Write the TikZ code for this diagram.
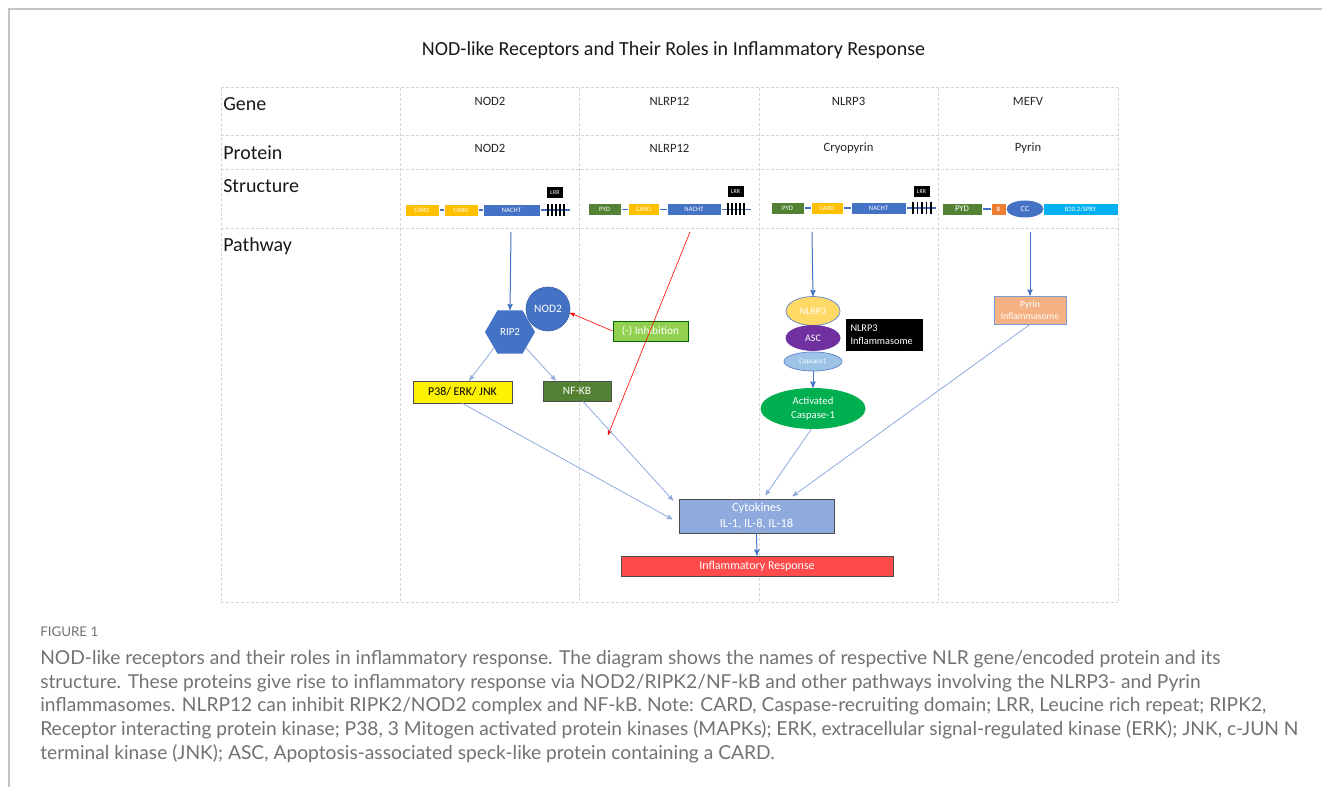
\documentclass[tikz,border=0pt]{standalone}
\usepackage{fontspec}
\setmainfont{Carlito}
\newfontfamily\capfont{Lato}
\usetikzlibrary{arrows,shapes.geometric}

\newdimen\px
\px=0.75pt

\definecolor{gridgray}{HTML}{D6D6D6}
\definecolor{framegray}{HTML}{C4C4C4}
\definecolor{cardyel}{HTML}{FFC000}
\definecolor{nachtblue}{HTML}{4472C4}
\definecolor{pydgreen}{HTML}{548235}
\definecolor{borange}{HTML}{ED7D31}
\definecolor{sprycyan}{HTML}{00B0F0}
\definecolor{lightblue}{HTML}{8FAADC}
\definecolor{inhibgreen}{HTML}{92D050}
\definecolor{nlrpyel}{HTML}{FFD966}
\definecolor{ascpurple}{HTML}{7030A0}
\definecolor{caspblue}{HTML}{9DC3E6}
\definecolor{actgreen}{HTML}{00B050}
\definecolor{pyrinorange}{HTML}{F4B183}
\definecolor{inflred}{HTML}{FF4B4B}
\definecolor{captgray}{HTML}{727272}

\tikzset{
  gridline/.style = {gridgray, line width=1\px, dash pattern=on 3\px off 2\px},
  rowlabel/.style = {anchor=west, inner sep=0pt, font=\fontsize{15}{18}\selectfont, text=black!90},
  colhead/.style = {inner sep=0pt, font=\fontsize{9.5}{11}\selectfont, text=black!85},
  dombox/.style = {rectangle, draw=white, line width=0.4\px, inner sep=0pt,
                   minimum height=12\px, text=white, font=\fontsize{5}{6}\selectfont},
  backbone/.style = {nachtblue, line width=1.5\px},
  lrrtick/.style = {black, line width=1.5\px},
  lrrbox/.style = {rectangle, fill=black, inner sep=0pt, minimum width=16\px,
                   minimum height=11\px, text=white, font=\fontsize{4.5}{5}\selectfont},
  pbox/.style = {rectangle, draw=black!70, line width=0.8\px, inner sep=0pt,
                 text=white, font=\fontsize{8.5}{10}\selectfont, align=center},
  pell/.style = {ellipse, draw=nachtblue!80, line width=0.8\px, inner sep=0pt,
                 text=white, align=center},
  flow/.style = {->, nachtblue, line width=1\px},
  thinflow/.style = {->, lightblue, line width=0.8\px},
  inhibline/.style = {->, red, line width=0.6\px},
}

\begin{document}
\begin{tikzpicture}[x=0.75pt, y=-0.75pt, >=stealth']

    \useasboundingbox (0,0) rectangle (1322,787);
    \draw[framegray, line width=1.5\px] (9,787) -- (9,9) -- (1322,9);

    \node[font=\fontsize{15}{18}\selectfont, text=black!90] (title) at (673.5,50)
        {NOD-like Receptors and Their Roles in Inflammatory Response};

    % table
    \foreach \gx in {221,400,579,759,938,1118}
        \draw[gridline] (\gx,88) -- (\gx,603);
    \foreach \gy in {88,136,170,229,603}
        \draw[gridline] (221,\gy) -- (1118,\gy);

    \node[rowlabel] (gene) at (223,104) {Gene};
    \node[rowlabel] (protein) at (223,153) {Protein};
    \node[rowlabel] (structure) at (223,186) {Structure};
    \node[rowlabel] (pathway) at (223,246) {Pathway};

    \node[colhead] (gnod2) at (490,101) {NOD2};
    \node[colhead] (gnlrp12) at (669.5,101) {NLRP12};
    \node[colhead] (gnlrp3) at (848.5,101) {NLRP3};
    \node[colhead] (gmefv) at (1028,101) {MEFV};
    \node[colhead] (pnod2) at (490,148) {NOD2};
    \node[colhead] (pnlrp12) at (669.5,148) {NLRP12};
    \node[colhead] (pcryo) at (848.5,148) {Cryopyrin};
    \node[colhead] (ppyrin) at (1028,148) {Pyrin};

    % NOD2 structure
    \coordinate (n2start) at (405,210);
    \coordinate (n2end) at (570,210);
    \draw[backbone] (n2start) -- (n2end);
    \node[dombox, fill=cardyel, minimum width=34\px] (n2card1) at (422,210) {CARD};
    \node[dombox, fill=cardyel, minimum width=34\px] (n2card2) at (461,210) {CARD};
    \node[dombox, fill=nachtblue, minimum width=57\px] (n2nacht) at (511.5,210) {NACHT};
    \foreach \tx in {548,552,556,560,564}
        \draw[lrrtick] (\tx,204) -- (\tx,216);
    \node[lrrbox] (n2lrr) at (555,193) {LRR};

    % NLRP12 structure
    \coordinate (n12start) at (589,209.5);
    \coordinate (n12end) at (751,209.5);
    \draw[backbone] (n12start) -- (n12end);
    \node[dombox, fill=pydgreen, minimum width=33\px] (n12pyd) at (604.5,209.5) {PYD};
    \node[dombox, fill=cardyel, minimum width=31\px] (n12card) at (643.5,209.5) {CARD};
    \node[dombox, fill=nachtblue, minimum width=54\px] (n12nacht) at (694,209.5) {NACHT};
    \foreach \tx in {728,732,736,740,744}
        \draw[lrrtick] (\tx,203.5) -- (\tx,215.5);
    \node[lrrbox] (n12lrr) at (735.5,192) {LRR};

    % NLRP3 structure
    \coordinate (n3start) at (772,208);
    \coordinate (n3end) at (936,208);
    \draw[backbone] (n3start) -- (n3end);
    \node[dombox, fill=pydgreen, minimum width=33\px] (n3pyd) at (787.5,208) {PYD};
    \node[dombox, fill=cardyel, minimum width=32\px] (n3card) at (827,208) {CARD};
    \node[dombox, fill=nachtblue, minimum width=55\px] (n3nacht) at (878.5,208) {NACHT};
    \foreach \tx in {913,917.5,922,926.5,931}
        \draw[lrrtick] (\tx,202) -- (\tx,214);
    \node[lrrbox] (n3lrr) at (921.5,192) {LRR};

    % MEFV structure
    \coordinate (mstart) at (975,209);
    \coordinate (mend) at (995,209);
    \draw[backbone] (mstart) -- (mend);
    \node[dombox, fill=pydgreen, minimum width=40\px, font=\fontsize{6.5}{7}\selectfont] (mpyd) at (962,209) {PYD};
    \node[dombox, fill=borange, minimum width=15\px] (mb) at (998.5,209) {B};
    \node[dombox, fill=sprycyan, minimum width=75\px] (mspry) at (1080.5,209) {B30.2/SPRY};
    \node[ellipse, fill=nachtblue, inner sep=0pt, minimum width=37\px, minimum height=17\px,
          text=white, font=\fontsize{6}{7}\selectfont] (mcc) at (1025,209) {CC};

    % pathway
    \coordinate (n2top) at (511,232);
    \coordinate (n12top) at (690,232);
    \coordinate (n3top) at (812,232);
    \coordinate (mtop) at (1030,232);
    \coordinate (redend) at (608,435);

    \node[regular polygon,
          regular polygon sides = 6,
          fill = nachtblue,
          minimum size = 50\px,
          inner sep = 0pt,
          text = white,
          font = \fontsize{8.2}{10}\selectfont
          ] (rip2) at (510,332) {RIP2};
    \node[circle,
          fill = nachtblue,
          draw = nachtblue!85!black,
          line width = 0.6\px,
          minimum size = 44\px,
          inner sep = 0pt,
          text = white,
          font = \fontsize{8.5}{10}\selectfont
          ] (nod2) at (548,309) {NOD2};
    \node[pbox,
          fill = inhibgreen,
          draw = black!60!green,
          minimum width = 75\px,
          minimum height = 20\px
          ] (inhib) at (650.5,331) {(-) Inhibition};
    \node[pbox,
          fill = yellow,
          text = black,
          font = \fontsize{8.9}{10}\selectfont,
          minimum width = 99\px,
          minimum height = 22\px
          ] (p38) at (462.5,392) {P38/ ERK/ JNK};
    \node[pbox,
          fill = pydgreen,
          minimum width = 68\px,
          minimum height = 20\px
          ] (nfkb) at (577,391) {NF-KB};

    \node[pell,
          fill = nlrpyel,
          minimum width = 54\px,
          minimum height = 29\px,
          font = \fontsize{7.5}{9}\selectfont
          ] (nlrp3) at (813,311) {NLRP3};
    \node[pell,
          fill = ascpurple,
          draw = ascpurple,
          minimum width = 54\px,
          minimum height = 25\px,
          font = \fontsize{7.5}{9}\selectfont
          ] (asc) at (813,338) {ASC};
    \node[pell,
          fill = caspblue,
          minimum width = 58\px,
          minimum height = 19\px,
          font = \fontsize{5.3}{6}\selectfont
          ] (casp) at (813,361.5) {Capsace1};
    \node[rectangle,
          fill = black,
          minimum width = 77\px,
          minimum height = 32\px,
          text width = 68\px,
          inner sep = 0pt,
          align = left,
          text = white,
          font = \fontsize{7.7}{10}\selectfont
          ] (nlrpinfl) at (884.5,335) {NLRP3\\Inflammasome};
    \node[ellipse,
          fill = actgreen,
          minimum width = 105\px,
          minimum height = 41\px,
          inner sep = 0pt,
          align = center,
          text = white,
          font = \fontsize{8}{10}\selectfont
          ] (actc) at (813,408.5) {Activated\\Caspase-1};
    \node[pbox,
          fill = pyrinorange,
          draw = nachtblue!70,
          minimum width = 72\px,
          minimum height = 28\px,
          font = \fontsize{7.2}{9}\selectfont
          ] (pyrin) at (1030,310) {Pyrin\\Inflammasome};

    \node[pbox,
          fill = lightblue,
          minimum width = 155\px,
          minimum height = 34\px,
          font = \fontsize{9.3}{12}\selectfont
          ] (cyto) at (756.5,516) {Cytokines\\IL-1, IL-8, IL-18};
    \node[pbox,
          fill = inflred,
          minimum width = 272\px,
          minimum height = 20\px,
          font = \fontsize{9}{10}\selectfont
          ] (infl) at (757,566) {Inflammatory Response};

    \path
    (n2top) edge [flow] (rip2.north)
    (rip2.south west) edge [thinflow] (p38.60)
    (rip2.south east) edge [thinflow] (nfkb.154)
    (inhib.west) edge [inhibline] (nod2.-10)
    (n12top) edge [inhibline] (redend)
    (p38.south) edge [thinflow, shorten >=7\px] (cyto.185)
    (nfkb.-60) edge [thinflow, shorten >=8\px] (cyto.173)
    (n3top) edge [flow] (nlrp3.north)
    (casp.south) edge [flow] (actc.north)
    (actc.265) edge [thinflow, shorten >=4\px] (cyto.69)
    (mtop) edge [flow] (pyrin.north)
    (pyrin.south) edge [thinflow, shorten >=4\px] (cyto.28)
    (cyto.south) edge [flow] (infl.north);

    % caption
    \node[anchor=west, inner sep=0pt, font=\capfont\fontsize{10}{12}\selectfont,
          text=captgray] (figno) at (40,632) {FIGURE 1};
    \node[anchor=north west, inner sep=0pt, align=left,
          font=\capfont\fontsize{14.4}{17.8}\selectfont, text=captgray] (caption) at (40,650)
        {NOD-like receptors and their roles in inflammatory response. The diagram shows the names of respective NLR gene/encoded protein and its\\
         structure. These proteins give rise to inflammatory response via NOD2/RIPK2/NF-kB and other pathways involving the NLRP3- and Pyrin\\
         inflammasomes. NLRP12 can inhibit RIPK2/NOD2 complex and NF-kB. Note: CARD, Caspase-recruiting domain; LRR, Leucine rich repeat; RIPK2,\\
         Receptor interacting protein kinase; P38, 3 Mitogen activated protein kinases (MAPKs); ERK, extracellular signal-regulated kinase (ERK); JNK, c-JUN N\\
         terminal kinase (JNK); ASC, Apoptosis-associated speck-like protein containing a CARD.};

\end{tikzpicture}
\end{document}
